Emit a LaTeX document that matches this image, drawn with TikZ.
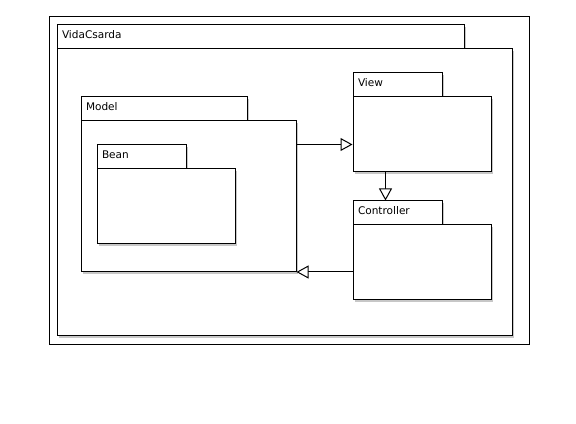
\documentclass[tikz,border=0pt]{standalone}
\usepackage{fontspec}
\setmainfont{DejaVu Sans}
\usetikzlibrary{shadows,arrows.meta}
\tikzset{
  pkgshadow/.style={drop shadow={shadow xshift=1.5pt, shadow yshift=-1.5pt, fill=black!22, opacity=1}},
  pkgtab/.style={draw, line width=0.75pt, fill=white, pkgshadow, inner xsep=3.75pt, inner ysep=0pt,
    align=left, anchor=north west, text height=6pt, text depth=3.6pt, font=\fontsize{7.9}{9}\selectfont},
  pkgbody/.style={draw, line width=0.75pt, fill=white, pkgshadow, inner sep=0pt, anchor=north west},
  framebox/.style={draw, line width=0.75pt, inner sep=0pt, anchor=north west},
  gen/.style={draw, line width=0.75pt, -{Triangle[open, length=9pt, width=9.75pt, fill=white]}}
}
\newcommand\umlpkg[8]{%
  \pgfmathsetmacro\pkgtw{(#5-#3)*0.75}%
  \pgfmathsetmacro\pkgtt{(#5-#3-10)*0.75}%
  \pgfmathsetmacro\pkgth{(#6-#4)*0.75}%
  \pgfmathsetmacro\pkgbw{(#7-#3)*0.75}%
  \pgfmathsetmacro\pkgbh{(#8-#6)*0.75}%
  \node[pkgtab, minimum width=\pkgtw pt, text width=\pkgtt pt, minimum height=\pkgth pt] (#1-tab) at (#3,#4) {#2};
  \node[pkgbody, minimum width=\pkgbw pt, minimum height=\pkgbh pt] (#1) at (#3,#6) {};
}
\begin{document}
\begin{tikzpicture}[x=0.75pt,y=-0.75pt]
\useasboundingbox (0,0) rectangle (576,424);
\node[framebox, minimum width=360pt, minimum height=246pt] (frame) at (48.5,16.5) {};
\umlpkg{vida}{VidaCsarda}{56.5}{24.5}{463.5}{48.5}{511.5}{335.5}
\umlpkg{model}{Model}{80.5}{96.5}{246.5}{120.5}{295.5}{271.5}
\umlpkg{bean}{Bean}{96.5}{144.5}{185.5}{168.5}{234.5}{243.5}
\umlpkg{view}{View}{352.5}{72.5}{441.5}{96.5}{490.5}{171.5}
\umlpkg{controller}{Controller}{352.5}{200.5}{441.5}{224.5}{490.5}{299.5}
\draw[gen] (model.east |- 0,144.5) -- (view.west |- 0,144.5);
\draw[gen] (view.south -| 385.5,0) -- (controller-tab.north -| 385.5,0);
\draw[gen] (controller.west |- 0,272) -- (model.east |- 0,272);
\end{tikzpicture}
\end{document}
